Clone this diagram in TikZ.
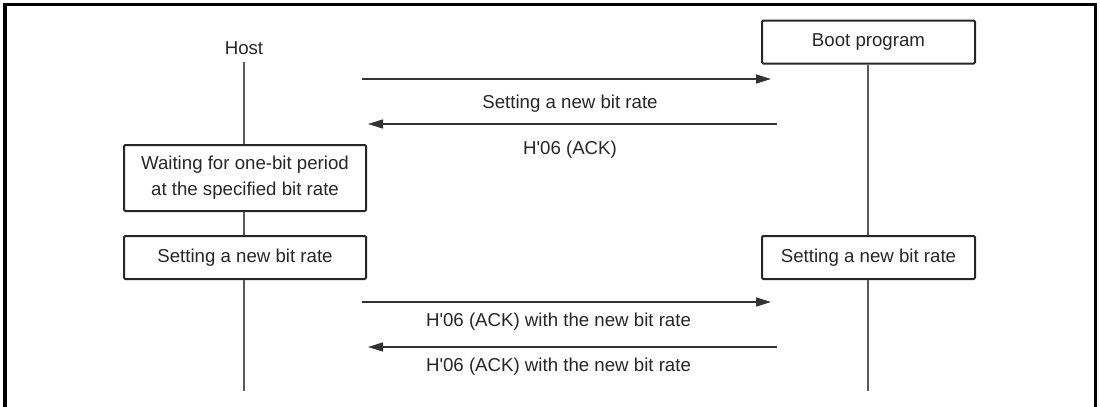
\documentclass[tikz,border=0pt]{standalone}
\usepackage{fontspec}
\setmainfont{Liberation Sans}[Ligatures=TeXOff]
\usetikzlibrary{arrows.meta}
\begin{document}
\begin{tikzpicture}[x=0.5pt,y=-0.5pt,
  every node/.style={font=\fontsize{9.33pt}{13pt}\selectfont, text=black!85},
  procbox/.style={draw=black!85, line width=1pt, rounded corners=0.6pt, minimum width=121pt, minimum height=21.5pt, inner sep=0pt, align=center},
  narrowbox/.style={procbox, minimum width=106.5pt},
  lifeline/.style={draw=black!65, line width=0.7pt},
  msg/.style={draw=black!80, line width=0.7pt, -{Triangle[length=7.5pt,width=4.5pt]}},
  lbl/.style={inner sep=0pt}]
\useasboundingbox (0,0) rectangle (1100,407);
\draw[line width=1.6pt] (5,420) -- (5,4.5) -- (1095.5,4.5) -- (1095.5,420);
% participants
\node[lbl] (host) at (244,48) {Host};
\node[narrowbox] (boot) at (868.5,42) {Boot program};
\node[procbox, minimum height=33pt] (wait) at (245,178) {Waiting for one-bit period\\at the specified bit rate};
\node[procbox] (setL) at (245,257.5) {Setting a new bit rate};
\node[narrowbox] (setR) at (868.5,257.5) {Setting a new bit rate};
\coordinate (hostEnd) at (244,391);
\coordinate (bootEnd) at (868,391);
% lifelines
\draw[lifeline] (244,62) -- (wait.north -| 244,0);
\draw[lifeline] (wait.south -| 244,0) -- (setL.north -| 244,0);
\draw[lifeline] (setL.south -| 244,0) -- (hostEnd);
\draw[lifeline] (boot.south -| 868,0) -- (setR.north -| 868,0);
\draw[lifeline] (setR.south -| 868,0) -- (bootEnd);
% messages
\coordinate (a1s) at (362,79);  \coordinate (a1e) at (771,79);
\coordinate (a2s) at (777,124); \coordinate (a2e) at (368,124);
\coordinate (a3s) at (362,302); \coordinate (a3e) at (771,302);
\coordinate (a4s) at (777,347); \coordinate (a4e) at (368,347);
\draw[msg] (a1s) -- (a1e);
\draw[msg] (a2s) -- (a2e);
\draw[msg] (a3s) -- (a3e);
\draw[msg] (a4s) -- (a4e);
\node[lbl] (l1) at (570,104) {Setting a new bit rate};
\node[lbl] (l2) at (570,150) {H'06 (ACK)};
\node[lbl] (l3) at (558.5,322) {H'06 (ACK) with the new bit rate};
\node[lbl] (l4) at (558.5,367) {H'06 (ACK) with the new bit rate};
\end{tikzpicture}
\end{document}
